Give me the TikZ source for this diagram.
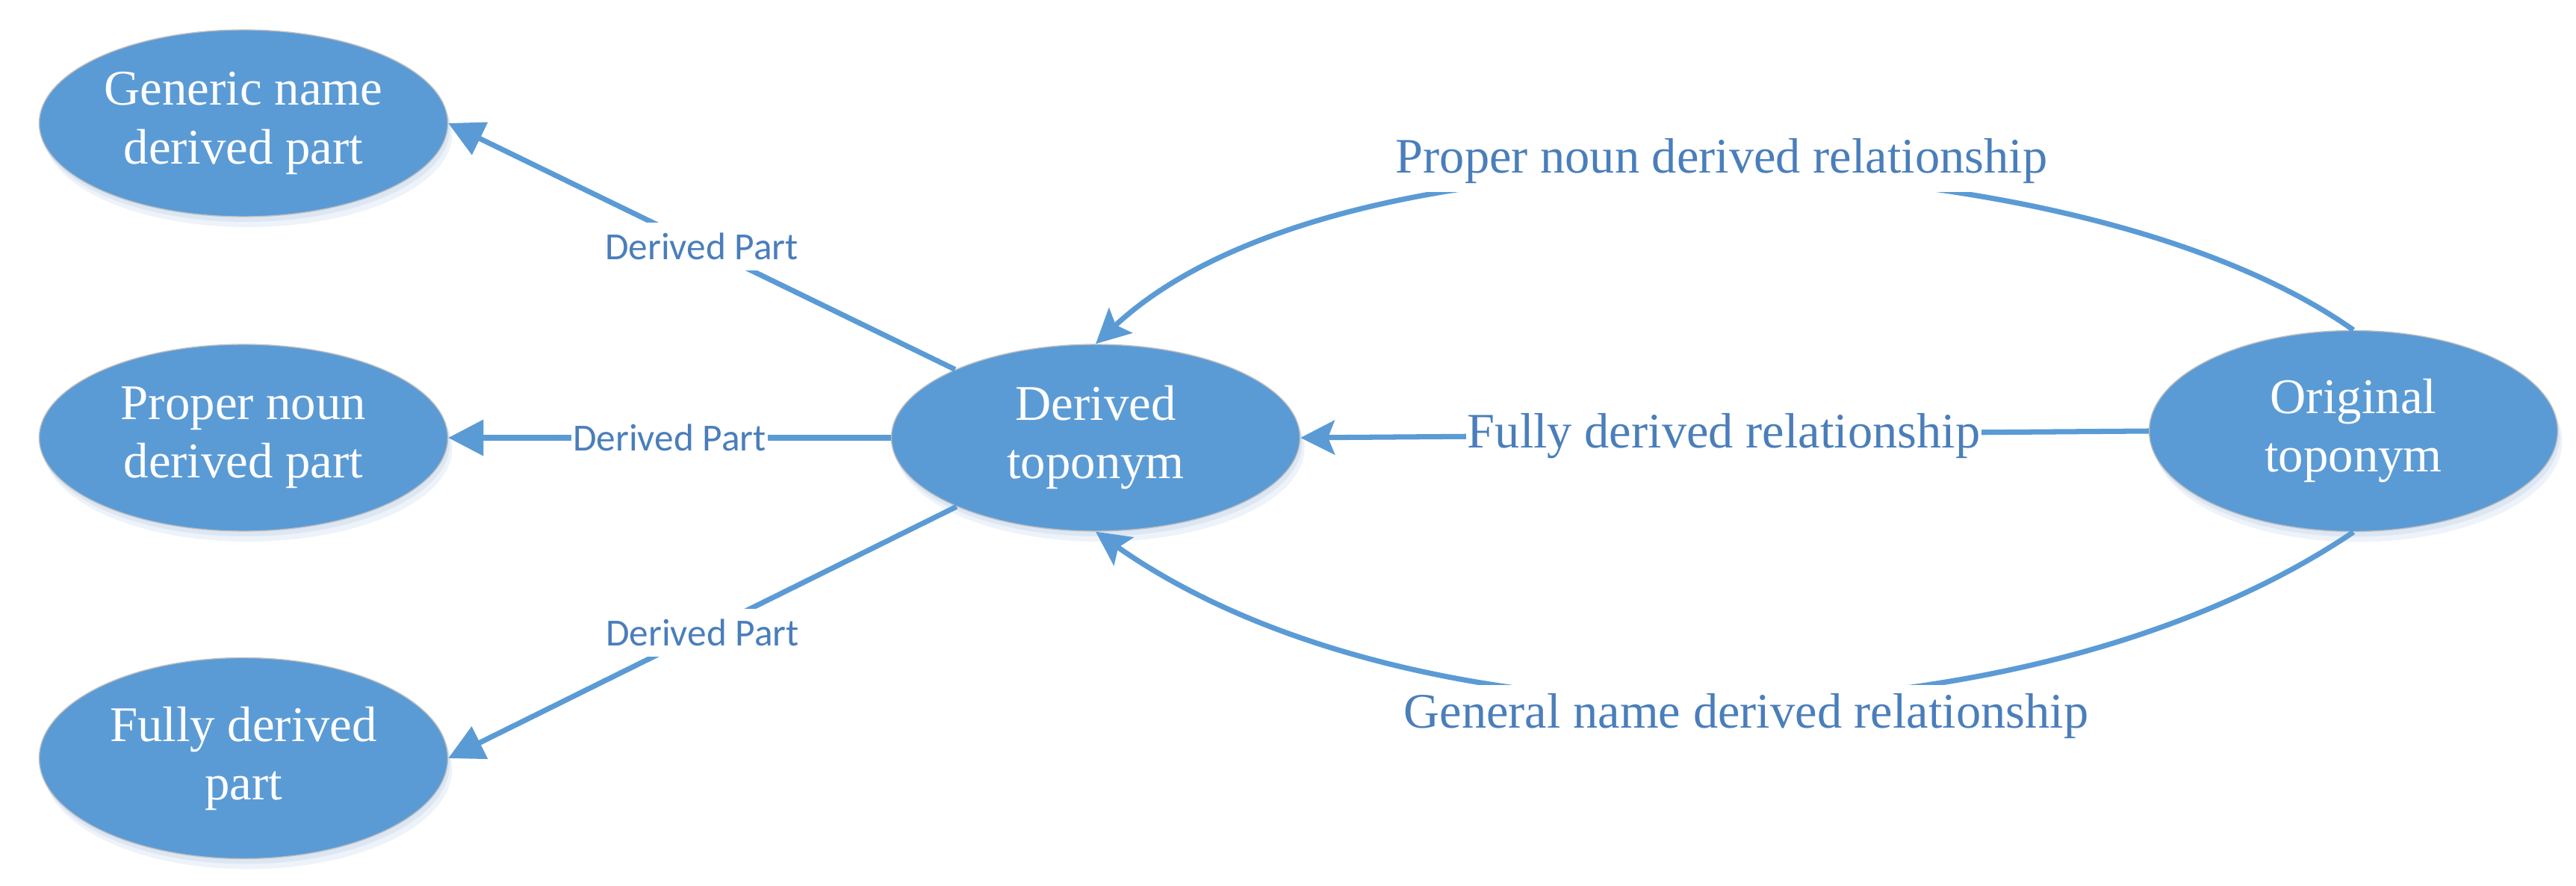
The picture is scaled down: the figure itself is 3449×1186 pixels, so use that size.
\documentclass[tikz,border=0pt]{standalone}
\usepackage{fontspec}
\setmainfont{Liberation Serif}
\newfontfamily\carlito{Carlito}
\usetikzlibrary{shapes.geometric,arrows.meta,shadows}
\definecolor{nodeblue}{RGB}{91,155,213}
\definecolor{lineblue}{RGB}{91,155,213}
\definecolor{labelblue}{RGB}{74,126,187}
\definecolor{shadowblue}{RGB}{205,220,238}
\definecolor{rimgray}{RGB}{190,190,190}
\tikzset{
  ell/.style={ellipse, fill=nodeblue, draw=rimgray, line width=0.4pt,
    text=white, font=\fontsize{19}{22.2}\selectfont, align=center,
    inner sep=0pt, minimum width=54.7mm, minimum height=25mm,
    drop shadow={shadow xshift=0.6mm, shadow yshift=-1.4mm, fill=shadowblue, opacity=0.35},
    drop shadow={shadow xshift=0.3mm, shadow yshift=-0.7mm, fill=shadowblue, opacity=0.5}},
  partarrow/.style={draw=lineblue, line width=2pt, -{Triangle[length=13.4pt,width=13.4pt]}},
  relarrow/.style={draw=lineblue, line width=2pt, -{Stealth[length=13pt,width=13pt,inset=2.5pt]}},
  partlabel/.style={fill=white, text=labelblue, font=\carlito\fontsize{14.6}{17}\selectfont,
    inner xsep=0.5pt, inner ysep=4pt},
  rellabel/.style={fill=white, text=labelblue, font=\fontsize{18.9}{22}\selectfont,
    inner xsep=0.5pt, inner ysep=3pt, anchor=base}
}
\begin{document}
\begin{tikzpicture}[x=0.1mm, y=-0.1mm]
\useasboundingbox (0,0) rectangle (3449,1186);

\node[ell] (g) at (326,165) {Generic name\\derived part};
\node[ell] (p) at (326,586) {Proper noun\\derived part};
\node[ell, minimum height=26.9mm] (f) at (326,1015) {Fully derived\\part};
\node[ell] (d) at (1467,586) {Derived\\toponym};
\node[ell, minimum height=26.9mm] (o) at (3151,577) {Original\\toponym};

\draw[partarrow] (d) -- node[partlabel, midway] (lg) {Derived Part} (g.east);
\draw[partarrow] (d) -- node[partlabel, midway] (lp) {Derived Part} (p.east);
\draw[partarrow] (d) -- node[partlabel, midway] (lf) {Derived Part} (f.east);

\draw[relarrow] (o.west) -- (d.east);
\node[rellabel] (lfull) at (2308,600) {Fully derived relationship};

\draw[relarrow] (o.north) .. controls (2777,177) and (1803,146) .. (d.north);
\node[rellabel] (lproper) at (2305,232) {Proper noun derived relationship};

\draw[relarrow] (o.south) .. controls (2716,1006) and (1899,1015) .. (d.south);
\node[rellabel] (lgeneral) at (2338,974) {General name derived relationship};
\end{tikzpicture}
\end{document}
